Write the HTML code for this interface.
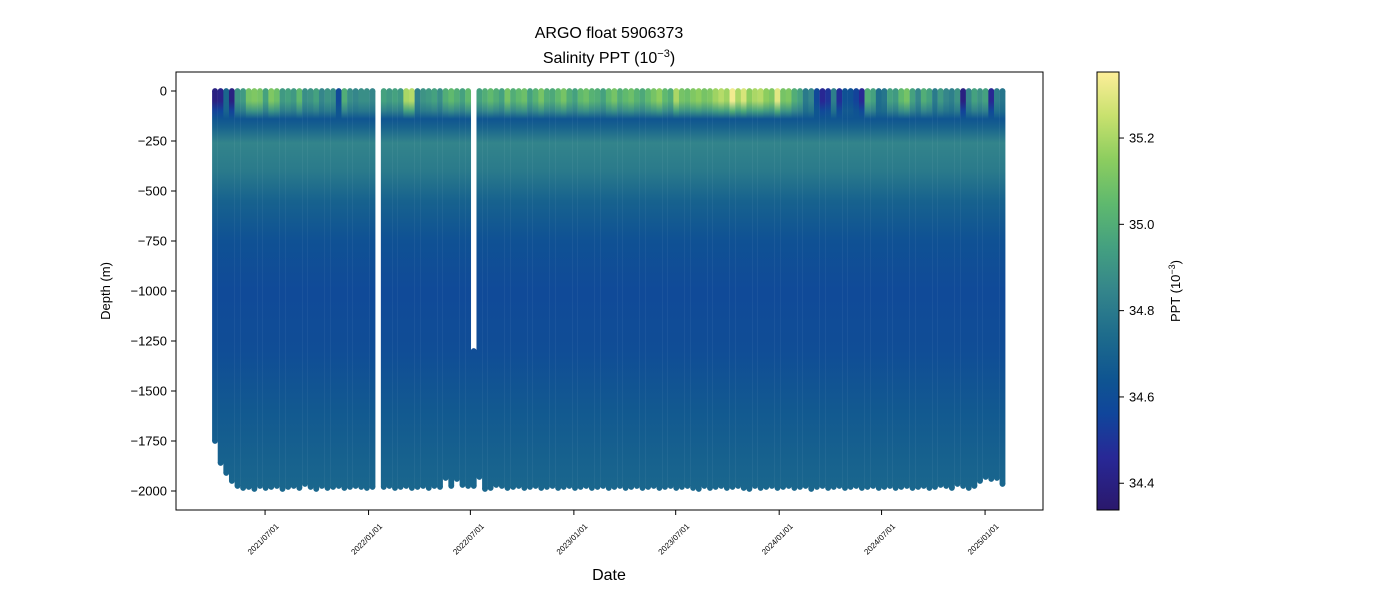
<!DOCTYPE html>
<html><head><meta charset="utf-8"><style>
body{margin:0;background:#fff;}
svg{display:block;font-family:"Liberation Sans",sans-serif;}
</style></head><body>
<svg id="chart" width="1400" height="600" viewBox="0 0 1400 600" xmlns="http://www.w3.org/2000/svg">
<defs id="defs"></defs>
<text x="609" y="38" text-anchor="middle" font-size="16">ARGO float 5906373</text>
<text x="609" y="63" text-anchor="middle" font-size="16">Salinity PPT (10<tspan dy="-6" font-size="11">−3</tspan><tspan dy="6">)</tspan></text>
<g id="profiles"></g>
<rect x="176" y="72" width="867" height="438" fill="none" stroke="#000" stroke-width="1"/>
<g id="yaxis"></g>
<g id="xaxis"></g>
<text transform="translate(110,291) rotate(-90)" text-anchor="middle" font-size="13">Depth (m)</text>
<text x="609" y="580" text-anchor="middle" font-size="16">Date</text>
<rect id="cbar" x="1097" y="72" width="22" height="438" stroke="#000" stroke-width="1"/>
<g id="cbticks"></g>
<text transform="translate(1180,291) rotate(-90)" text-anchor="middle" font-size="13">PPT (10<tspan dy="-5" font-size="9">−3</tspan><tspan dy="5">)</tspan></text>
</svg>
<script>
// profile date offsets (days from 2021-04-03)
const dayOffsets = [0,10,20,30,40,50,60,70,80,90,100,110,120,130,140,150,160,170,180,190,200,210,220,230,240,250,260,270,280,300,310,320,330,340,350,360,370,380,390,400,410,420,430,440,450,460,470,480,490,500,510,520,530,540,550,560,570,580,590,600,610,620,630,640,650,660,670,680,690,700,710,720,730,740,750,760,770,780,790,800,810,820,830,840,850,860,870,880,890,900,910,920,930,940,950,960,970,980,990,1000,1010,1020,1030,1040,1050,1060,1070,1080,1090,1100,1110,1120,1130,1140,1150,1160,1170,1180,1190,1200,1210,1220,1230,1240,1250,1260,1270,1280,1290,1300,1310,1320,1330,1340,1350,1360,1370,1380,1390,1400];
const surfaceSal = [34.40,34.42,34.72,34.40,34.90,34.92,35.10,35.12,35.10,34.95,35.12,35.08,34.92,34.95,34.92,35.05,34.88,34.90,34.95,34.85,34.90,34.88,34.58,35.00,34.88,34.85,34.88,34.88,34.85,34.95,34.92,34.95,34.92,35.20,35.22,34.82,34.90,34.92,34.95,34.88,35.00,35.05,35.00,34.95,35.05,35.12,34.95,35.00,35.05,35.00,34.95,35.10,35.00,35.05,35.08,34.95,35.02,35.10,35.00,34.98,35.05,35.10,35.00,34.95,35.05,35.08,35.02,35.00,34.95,35.05,35.10,35.00,35.05,35.08,35.02,34.98,35.05,35.10,35.15,35.05,35.00,35.20,35.10,35.08,35.12,35.15,35.10,35.12,35.18,35.22,35.18,35.33,35.20,35.28,35.15,35.20,35.22,35.15,35.12,35.30,35.10,35.12,35.00,34.95,34.80,34.85,34.58,34.45,34.50,34.82,34.48,34.62,34.62,34.55,34.45,35.00,34.95,34.75,34.78,34.95,34.92,35.05,35.10,34.95,34.85,35.00,34.95,34.80,34.92,34.85,34.82,34.90,34.40,34.85,34.95,34.90,34.95,34.45,34.82,34.78];
const maxDepth = [1750,1860,1910,1950,1975,1985,1980,1990,1975,1985,1980,1975,1990,1980,1975,1985,1965,1980,1990,1975,1985,1980,1975,1985,1980,1975,1980,1985,1980,1980,1975,1985,1980,1975,1985,1980,1975,1985,1975,1980,1935,1975,1940,1970,1975,1975,1930,1990,1985,1970,1975,1985,1980,1975,1985,1980,1975,1985,1980,1975,1985,1980,1975,1985,1980,1975,1985,1980,1975,1985,1980,1975,1985,1980,1975,1985,1980,1975,1985,1980,1975,1985,1980,1975,1985,1990,1975,1985,1980,1975,1985,1980,1975,1985,1990,1975,1985,1980,1975,1985,1980,1975,1985,1980,1975,1990,1980,1975,1985,1980,1975,1985,1980,1975,1985,1980,1975,1985,1980,1975,1985,1980,1975,1985,1980,1975,1985,1980,1970,1975,1985,1965,1975,1985,1975,1950,1930,1940,1935,1965];
const topDepthOverrides = {45:1300};
const yTicks = [0,-250,-500,-750,-1000,-1250,-1500,-1750,-2000];
const xTickLabels = ["2021/07/01","2022/01/01","2022/07/01","2023/01/01","2023/07/01","2024/01/01","2024/07/01","2025/01/01"];
const xTickDays = [89,273,454,638,819,1003,1185,1369];
const cbTicks = [34.4,34.6,34.8,35.0,35.2];
const profileDepths = [0,50,100,140,180,260,400,550,750,1000,1300,1600,2000];
const profileSal = [null,null,"mid",34.64,34.70,34.84,34.80,34.70,34.62,34.585,34.60,34.66,34.72];

const NS="http://www.w3.org/2000/svg";
const xOf = d => 215 + d*0.5625;
const yOf = m => 91 - m*0.2;
const vmin=34.338, vmax=35.353;
const cmap=[[0,42,24,108],[0.12,40,40,150],[0.22,16,70,155],[0.3,15,85,145],[0.4,30,108,140],[0.5,52,133,139],[0.6,68,160,128],[0.7,95,185,110],[0.8,140,205,95],[0.9,200,225,110],[1,253,238,153]];
function color(v){let t=Math.max(0,Math.min(1,(v-vmin)/(vmax-vmin)));
 for(let i=1;i<cmap.length;i++){if(t<=cmap[i][0]){const a=cmap[i-1],b=cmap[i],f=(t-a[0])/(b[0]-a[0]);
 return `rgb(${Math.round(a[1]+f*(b[1]-a[1]))},${Math.round(a[2]+f*(b[2]-a[2]))},${Math.round(a[3]+f*(b[3]-a[3]))})`;}}return "rgb(253,238,153)";}
function mk(tag,attrs,parent){const e=document.createElementNS(NS,tag);for(const k in attrs)e.setAttribute(k,attrs[k]);parent.appendChild(e);return e;}

const defs=document.getElementById('defs'), g=document.getElementById('profiles');
const cg=mk('linearGradient',{id:'cbg',x1:0,y1:1,x2:0,y2:0},defs);
cmap.forEach(s=>mk('stop',{offset:s[0],'stop-color':`rgb(${s[1]},${s[2]},${s[3]})`},cg));
document.getElementById('cbar').setAttribute('fill','url(#cbg)');

const w=5.8;
dayOffsets.forEach((d,i)=>{
 const s=surfaceSal[i];
 const lg=mk('linearGradient',{id:'pg'+i,gradientUnits:'userSpaceOnUse',x1:0,y1:yOf(0),x2:0,y2:yOf(-2000)},defs);
 profileDepths.forEach((dep,k)=>{let v=profileSal[k];if(v===null)v=s;else if(v==="mid")v=(s+34.7)/2;
  mk('stop',{offset:dep/2000,'stop-color':color(v)},lg);});
 const cx=xOf(d), top=topDepthOverrides[i]||0, bot=maxDepth[i];
 const grp=mk('g',{},g);
 
 
 const fill='url(#pg'+i+')';
 mk('rect',{x:cx-w/2,y:yOf(-top),width:w,height:yOf(-bot)-yOf(-top),fill:fill},grp);
 mk('circle',{cx:cx,cy:yOf(-bot),r:w/2,fill:fill},grp);
 mk('circle',{cx:cx,cy:yOf(-top),r:w/2,fill:fill},grp);
});

const ya=document.getElementById('yaxis');
yTicks.forEach(t=>{const y=yOf(t);
 const l=mk('line',{x1:171,x2:176,y1:y,y2:y,stroke:'#000'},ya);
 
 
 const tx=mk('text',{x:167,y:y+4.5,'text-anchor':'end','font-size':13},ya);
 
 
 tx.textContent=String(t).replace('-','−');});

const xa=document.getElementById('xaxis');
xTickDays.forEach((d,i)=>{const x=xOf(d);
 const l=mk('line',{x1:x,x2:x,y1:510,y2:515,stroke:'#000'},xa);
 
 
 const tx=mk('text',{transform:`translate(${x},${541}) rotate(-45)`,'text-anchor':'middle','font-size':8},xa);
 
 
 tx.textContent=xTickLabels[i];});

const cb=document.getElementById('cbticks');
cbTicks.forEach(v=>{const y=510-(v-vmin)/(vmax-vmin)*438;
 const l=mk('line',{x1:1119,x2:1124,y1:y,y2:y,stroke:'#000'},cb);
 
 
 const tx=mk('text',{x:1129,y:y+4.5,'font-size':13},cb);
 
 
 tx.textContent=v.toFixed(1);});
</script>
</body></html>
